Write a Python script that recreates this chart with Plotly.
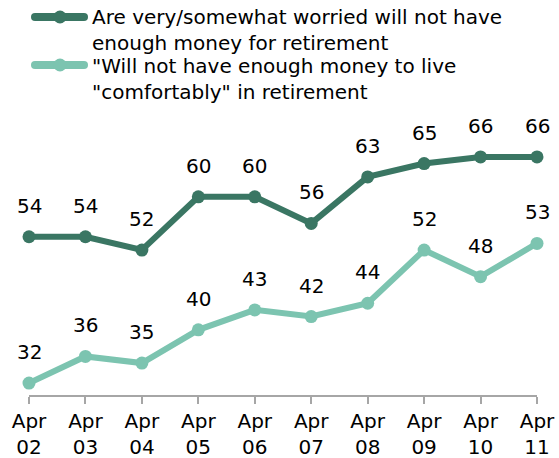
import plotly.graph_objects as go

# Survey waves (April of each year)
periods = ["Apr<br>02", "Apr<br>03", "Apr<br>04", "Apr<br>05", "Apr<br>06",
           "Apr<br>07", "Apr<br>08", "Apr<br>09", "Apr<br>10", "Apr<br>11"]

worried_label = "Are very/somewhat worried will not have<br>enough money for retirement"
worried = [54, 54, 52, 60, 60, 56, 63, 65, 66, 66]

comfort_label = "\"Will not have enough money to live<br>\"comfortably\" in retirement"
comfortably = [32, 36, 35, 40, 43, 42, 44, 52, 48, 53]

DARK = "#3A7663"
LIGHT = "#7CC4B0"
FONT = "DejaVu Sans"

W, H = 559, 458
ML, MR, MT, MB = 29, 22, 110, 63

x_idx = list(range(len(periods)))

fig = go.Figure()
for name, vals, col in [(worried_label, worried, DARK), (comfort_label, comfortably, LIGHT)]:
    fig.add_trace(go.Scatter(
        x=x_idx, y=vals, mode="lines+markers", name=name,
        line=dict(color=col, width=6),
        marker=dict(color=col, size=13),
        cliponaxis=False, showlegend=False,
    ))

annotations = []
for vals in (worried, comfortably):
    for i, v in enumerate(vals):
        annotations.append(dict(
            x=i, y=v, xref="x", yref="y", text=str(v), showarrow=False,
            yshift=31, yanchor="middle", xanchor="center",
            font=dict(family=FONT, size=20, color="#000000"),
        ))

# Legend drawn beside the top of the figure
plot_w = W - ML - MR
plot_h = H - MT - MB
shapes = []
legend_rows = [(worried_label, DARK, 17, 30), (comfort_label, LIGHT, 65, 79)]
for text, col, py_line, py_text in legend_rows:
    up = MT - py_line
    shapes.append(dict(type="line", xref="paper", yref="paper",
                       xsizemode="pixel", ysizemode="pixel", xanchor=0, yanchor=1,
                       x0=35 - ML, x1=84 - ML, y0=up, y1=up,
                       line=dict(color=col, width=8)))
    for cx, r in [(35, 4), (84, 4), (60, 6.5)]:
        shapes.append(dict(type="circle", xref="paper", yref="paper",
                           xsizemode="pixel", ysizemode="pixel", xanchor=0, yanchor=1,
                           x0=cx - r - ML, x1=cx + r - ML, y0=up - r, y1=up + r,
                           fillcolor=col, line=dict(width=0)))
    annotations.append(dict(
        x=(90 - ML) / plot_w, y=(H - MB - py_text) / plot_h,
        xref="paper", yref="paper", text=text, showarrow=False,
        xanchor="left", yanchor="middle", align="left",
        font=dict(family=FONT, size=20, color="#000000"),
    ))

fig.update_layout(
    width=W, height=H,
    margin=dict(l=ML, r=MR, t=MT, b=MB, autoexpand=False),
    paper_bgcolor="white", plot_bgcolor="white",
    font=dict(family=FONT, size=20, color="#000000"),
    xaxis=dict(
        range=[0, len(periods) - 1], tickmode="array", tickvals=x_idx, ticktext=periods,
        showline=True, linecolor="#A6A6A6", linewidth=2,
        ticks="outside", ticklen=7, tickwidth=2, tickcolor="#A6A6A6",
        showgrid=False, zeroline=False, fixedrange=True, automargin=False,
        tickfont=dict(family=FONT, size=20, color="#000000"),
    ),
    yaxis=dict(range=[30.2, 30.2 + plot_h / 6.65], visible=False, showgrid=False,
               zeroline=False, fixedrange=True, automargin=False),
    shapes=shapes,
    annotations=annotations,
    showlegend=False,
)

fig.write_html("out.html")
